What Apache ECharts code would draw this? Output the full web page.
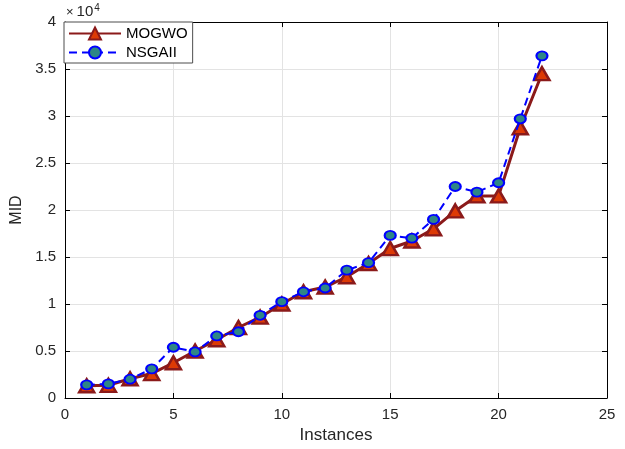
<!DOCTYPE html>
<html>
<head>
<meta charset="utf-8">
<script src="https://cdn.jsdelivr.net/npm/echarts@6/dist/echarts.min.js"></script>
<style>
  html, body { margin: 0; padding: 0; background: #fff; }
  #chart { width: 625px; height: 449px; }
</style>
</head>
<body>
<div id="chart"></div>
<script>
// Instance numbers on the x axis
const instances = [1, 2, 3, 4, 5, 6, 7, 8, 9, 10, 11, 12, 13, 14, 15, 16, 17, 18, 19, 20, 21, 22];
// MID values per instance for each algorithm
const mogwo = [1300, 1350, 2050, 2600, 3750, 5000, 6200, 7500, 8600, 10000, 11300, 11800,
               12900, 14300, 15900, 16700, 18000, 19900, 21500, 21500, 28750, 34500];
const nsgaii = [1400, 1500, 2000, 3100, 5400, 4900, 6600, 7050, 8800, 10250, 11300, 11700,
                13600, 14400, 17300, 17000, 19000, 22500, 21900, 22900, 29700, 36400];
// Tick labels on the y axis (values are scaled by 10^4)
const yTickLabels = ['0', '0.5', '1', '1.5', '2', '2.5', '3', '3.5', '4'];

const FONT = 'Liberation Sans, Arial, sans-serif';
const INK = '#262626';

const chart = echarts.init(document.getElementById('chart'), null, { renderer: 'canvas' });

const pairs = (ys) => instances.map((x, i) => [x, ys[i]]);

// Top and right axes only close the box and carry inward ticks
const boxAxis = {
  axisLine: { show: true, onZero: false, lineStyle: { color: '#000', width: 1 } },
  axisTick: { show: true, inside: true, length: 5, lineStyle: { color: '#000', width: 1 } },
  splitLine: { show: false },
  axisLabel: { show: false }
};

chart.setOption({
  backgroundColor: '#fff',
  animation: false,
  grid: { left: 65, right: 18, top: 22, bottom: 51, containLabel: false },
  xAxis: [
    {
      type: 'value', min: 0, max: 25, interval: 5, position: 'bottom',
      name: 'Instances', nameLocation: 'middle', nameGap: 27,
      nameTextStyle: { fontFamily: FONT, fontSize: 17, color: INK },
      axisLine: { show: true, onZero: false, lineStyle: { color: '#000', width: 1 } },
      axisTick: { show: true, inside: true, length: 5, lineStyle: { color: '#000' } },
      axisLabel: { fontFamily: FONT, fontSize: 15, color: INK, margin: 9 },
      splitLine: { show: true, lineStyle: { color: '#e3e3e3', width: 1 } }
    },
    Object.assign({ type: 'value', min: 0, max: 25, interval: 5, position: 'top' }, boxAxis)
  ],
  yAxis: [
    {
      type: 'value', min: 0, max: 40000, interval: 5000, position: 'left',
      name: 'MID', nameLocation: 'middle', nameGap: 38, nameRotate: 90,
      nameTextStyle: { fontFamily: FONT, fontSize: 16, color: INK },
      axisLine: { show: true, onZero: false, lineStyle: { color: '#000', width: 1 } },
      axisTick: { show: true, inside: true, length: 5, lineStyle: { color: '#000' } },
      axisLabel: {
        fontFamily: FONT, fontSize: 15, color: INK, margin: 9,
        formatter: (v) => yTickLabels[Math.round(v / 5000)]
      },
      splitLine: { show: true, lineStyle: { color: '#e3e3e3', width: 1 } }
    },
    Object.assign({ type: 'value', min: 0, max: 40000, interval: 5000, position: 'right' }, boxAxis)
  ],
  legend: {
    orient: 'vertical',
    left: 64, top: 22,
    padding: [4, 5, 3, 4],
    itemGap: 4,
    itemWidth: 52, itemHeight: 15,
    backgroundColor: '#fff',
    borderColor: '#4d4d4d',
    borderWidth: 1,
    borderRadius: 0,
    textStyle: { fontFamily: FONT, fontSize: 15, color: '#000' },
    data: ['MOGWO', 'NSGAII']
  },
  graphic: [
    {
      type: 'text', left: 66, top: 3,
      style: {
        text: '{x|×}{b|10}{s|4}',
        rich: {
          x: { fontFamily: FONT, fontSize: 13, fill: INK, padding: [0, 3, 0, 0] },
          b: { fontFamily: FONT, fontSize: 15, fill: INK },
          s: { fontFamily: FONT, fontSize: 10, fill: INK, verticalAlign: 'top', padding: [0, 0, 8, 1] }
        }
      }
    }
  ],
  series: [
    {
      name: 'MOGWO', type: 'line', data: pairs(mogwo),
      symbol: 'triangle', symbolSize: [15, 13],
      lineStyle: { color: '#8b1a1a', width: 3 },
      itemStyle: { color: '#dd3a05', borderColor: '#8b1a1a', borderWidth: 2.5 },
      z: 2
    },
    {
      name: 'NSGAII', type: 'line', data: pairs(nsgaii),
      symbol: 'circle', symbolSize: [11, 9],
      lineStyle: { color: '#0000ff', width: 2, type: [8, 5] },
      itemStyle: { color: '#2e8686', borderColor: '#0000ff', borderWidth: 2 },
      z: 3
    }
  ]
});
</script>
</body>
</html>
